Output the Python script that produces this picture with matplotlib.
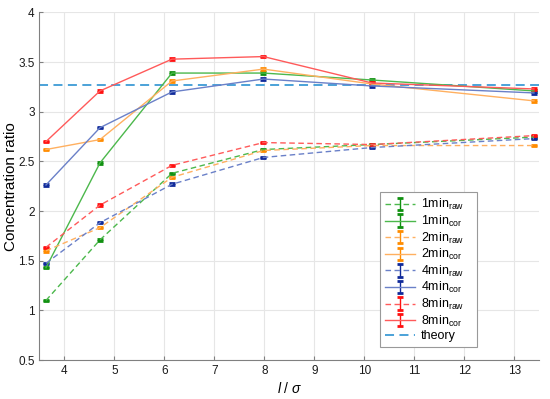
import matplotlib
matplotlib.use("Agg")
import matplotlib.pyplot as plt
import numpy as np

plt.rcParams['font.family'] = ['Liberation Sans', 'DejaVu Sans']
plt.rcParams['mathtext.fontset'] = 'custom'
plt.rcParams['mathtext.rm'] = 'Liberation Sans'
plt.rcParams['mathtext.it'] = 'Liberation Sans:italic'

x = [3.63, 4.71, 6.15, 7.98, 10.15, 13.39]

raw_1 = [1.10, 1.71, 2.38, 2.62, 2.67, 2.745]
cor_1 = [1.43, 2.485, 3.39, 3.39, 3.32, 3.21]
raw_2 = [1.60, 1.833, 2.34, 2.61, 2.66, 2.66]
cor_2 = [2.62, 2.72, 3.31, 3.43, 3.28, 3.11]
raw_4 = [1.474, 1.883, 2.27, 2.54, 2.64, 2.73]
cor_4 = [2.263, 2.84, 3.20, 3.33, 3.26, 3.19]
raw_8 = [1.635, 2.06, 2.46, 2.69, 2.67, 2.76]
cor_8 = [2.70, 3.21, 3.53, 3.556, 3.29, 3.23]
theory = 3.27

labels = ['1min$_{\\mathrm{raw}}$', '1min$_{\\mathrm{cor}}$',
          '2min$_{\\mathrm{raw}}$', '2min$_{\\mathrm{cor}}$',
          '4min$_{\\mathrm{raw}}$', '4min$_{\\mathrm{cor}}$',
          '8min$_{\\mathrm{raw}}$', '8min$_{\\mathrm{cor}}$']

series = [raw_1, cor_1, raw_2, cor_2, raw_4, cor_4, raw_8, cor_8]
line_cols = ['#4cb84c', '#4cb84c', '#ffb060', '#ffb060', '#6a80c8', '#6a80c8', '#ff5a5a', '#ff5a5a']
cap_cols = ['#109010', '#109010', '#ff8c00', '#ff8c00', '#102a9a', '#102a9a', '#ff1010', '#ff1010']

fig = plt.figure(figsize=(5.5, 3.99), dpi=100)
ax = fig.add_axes([0.0718, 0.0977, 0.909, 0.871])

handles = []
for i, (s, lab) in enumerate(zip(series, labels)):
    ls = '--' if i % 2 == 0 else '-'
    eb = ax.errorbar(x, s, yerr=0.008, color=line_cols[i], ecolor=cap_cols[i],
                     linestyle=ls, linewidth=1.0, elinewidth=1.0, capsize=2.5,
                     capthick=2.0, label=lab, dashes=(4, 2.5) if ls == '--' else (None, None))
    handles.append(eb)
th = ax.axhline(theory, color='#3d9bd6', linestyle=(0, (5, 3)), linewidth=1.3, label='theory')
handles.append(th)

ax.set_xlim(3.5, 13.5)
ax.set_ylim(0.5, 4)
ax.set_xticks(range(4, 14))
ax.set_yticks(np.arange(0.5, 4.01, 0.5))
ax.set_yticklabels(['0.5', '1', '1.5', '2', '2.5', '3', '3.5', '4'])
ax.grid(True, color='#e6e6e6', linewidth=0.8)
ax.set_axisbelow(True)
for sp in ['top', 'right']:
    ax.spines[sp].set_visible(False)
for sp in ['left', 'bottom']:
    ax.spines[sp].set_color('#808080')
ax.tick_params(direction='in', length=3, colors='#808080', labelcolor='#1a1a1a', labelsize=8.5)
ax.set_xlabel('$l$ / $\\sigma$', fontsize=10, labelpad=3)
ax.set_ylabel('Concentration ratio', fontsize=11, labelpad=0)

leg = ax.legend(handles=handles, labels=labels + ['theory'],
                loc='lower left', bbox_to_anchor=(0.681, 0.037, 0.194, 0.464), mode='expand',
                fontsize=9, fancybox=False, framealpha=1, edgecolor='#999999',
                handlelength=2.4, labelspacing=0.12, borderpad=0.4, handletextpad=0.5,
                borderaxespad=0)
leg.get_frame().set_linewidth(0.8)

fig.savefig('out.png', dpi=100)
